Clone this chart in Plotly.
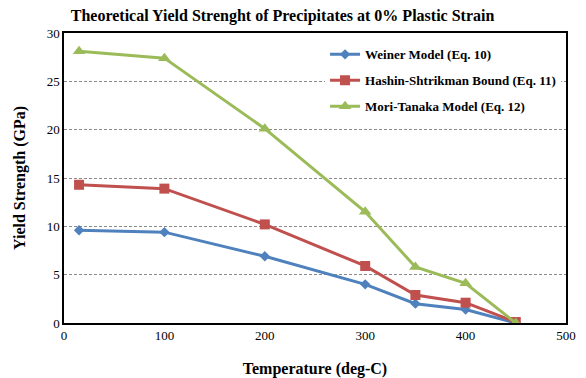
import plotly.graph_objects as go

temps = [15, 100, 200, 300, 350, 400, 450]
weiner = [9.6, 9.4, 6.9, 4.0, 2.0, 1.4, 0.0]
hashin = [14.3, 13.9, 10.2, 5.9, 2.9, 2.1, 0.1]
mori = [28.1, 27.4, 20.1, 11.5, 5.8, 4.1, 0.0]

names = ["Weiner Model (Eq. 10)", "Hashin-Shtrikman Bound (Eq. 11)", "Mori-Tanaka Model (Eq. 12)"]
colors = ["#4F81BD", "#C0504D", "#9BBB59"]
symbols = ["diamond", "square", "triangle-up"]
sizes = [8, 10, 11]

fig = go.Figure()
for i, (ys, n, c, s, sz) in enumerate(zip([weiner, hashin, mori], names, colors, symbols, sizes)):
    fig.add_trace(go.Scatter(x=temps, y=ys, name="<b>" + n + "</b>", mode="lines+markers",
                             legendgroup="g%d" % i,
                             line=dict(color=c, width=3),
                             marker=dict(symbol=s, size=sz, color=c)))

font = "Liberation Serif"
fig.update_layout(
    width=578, height=370,
    margin=dict(l=56, r=20, t=25, b=55, autoexpand=False),
    paper_bgcolor="white", plot_bgcolor="white",
    font=dict(family=font, size=13, color="black"),
    title=dict(text="<b>Theoretical Yield Strenght of Precipitates at 0% Plastic Strain</b>",
               x=0.475, xanchor="center", y=0.995, yanchor="top",
               font=dict(size=16, family=font)),
    legend=dict(x=0.52, y=0.978, xanchor="left", yanchor="top",
                bgcolor="white", borderwidth=0,
                font=dict(size=13, family=font, color="black"),
                tracegroupgap=6, itemwidth=30),
    showlegend=True,
)
fig.update_xaxes(range=[0, 500], dtick=100, showgrid=False, automargin=False,
                 showline=True, linecolor="black", linewidth=1.5, mirror=True,
                 ticks="", tickfont=dict(size=13),
                 title=dict(text="<b>Temperature (deg-C)</b>", font=dict(size=16), standoff=20))
fig.update_yaxes(range=[0, 30], dtick=5, showgrid=True, gridcolor="#8a8a8a",
                 griddash="3px,2px", gridwidth=1, zeroline=False, automargin=False,
                 showline=True, linecolor="black", linewidth=1.5, mirror=True,
                 ticks="", tickfont=dict(size=13),
                 title=dict(text="<b>Yield Strength (GPa)</b>", font=dict(size=16), standoff=17))

fig.write_html("out.html")
